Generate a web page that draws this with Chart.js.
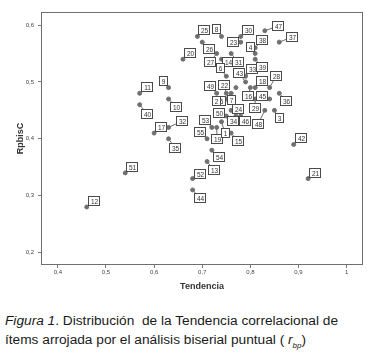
<!DOCTYPE html>
<html>
<head>
<meta charset="utf-8">
<script src="https://cdn.jsdelivr.net/npm/chart.js@4.4.0/dist/chart.umd.min.js"></script>
<style>
    body { margin: 0; background: #fff; width: 372px; height: 359px; overflow: hidden; font-family: "Liberation Sans", Arial, sans-serif; }
    #grafico-wrap { position: absolute; left: 0; top: 0; width: 372px; height: 295px; }
    #leyenda { position: absolute; left: 5px; top: 311px; font-size: 13.7px; line-height: 19px; color: #1a1a1a; white-space: nowrap; }
    #leyenda sub { font-size: 8px; }
</style>
</head>
<body>
<div id="grafico-wrap"><canvas id="grafico" width="372" height="295"></canvas></div>
<div id="leyenda"><i>Figura 1</i>. Distribución&nbsp; de la Tendencia correlacional de<br>ítems arrojada por el análisis biserial puntual ( <i>r<sub>bp</sub></i>)</div>
<script>
// items (etiquetas), Tendencia (x) y RpbisC (y)
const items     = ["12", "51", "11", "40", "9", "10", "17", "32", "35", "20",
                   "25", "8", "26", "27", "23", "30", "47", "37", "38", "4",
                   "14", "31", "6", "33", "43", "39", "18", "28", "16", "45",
                   "29", "36", "3", "48", "49", "22", "7", "5", "2", "50",
                   "24", "34", "46", "53", "55", "19", "1", "15", "54", "13",
                   "52", "44", "42", "21", ""];
const tendencia = [0.46, 0.54, 0.57, 0.57, 0.63, 0.63, 0.60, 0.63, 0.63, 0.66,
                   0.69, 0.74, 0.70, 0.73, 0.78, 0.78, 0.83, 0.86, 0.81, 0.81,
                   0.74, 0.76, 0.75, 0.79, 0.79, 0.81, 0.81, 0.84, 0.80, 0.84,
                   0.81, 0.86, 0.85, 0.83, 0.73, 0.75, 0.76, 0.75, 0.74, 0.75,
                   0.76, 0.77, 0.78, 0.72, 0.71, 0.73, 0.74, 0.76, 0.72, 0.71,
                   0.68, 0.68, 0.89, 0.92, 0.77];
const rpbis     = [0.28, 0.34, 0.48, 0.46, 0.49, 0.47, 0.41, 0.42, 0.40, 0.54,
                   0.58, 0.58, 0.57, 0.55, 0.57, 0.58, 0.59, 0.57, 0.56, 0.55,
                   0.54, 0.55, 0.51, 0.51, 0.50, 0.54, 0.49, 0.49, 0.49, 0.47,
                   0.47, 0.48, 0.45, 0.45, 0.48, 0.48, 0.48, 0.47, 0.47, 0.44,
                   0.45, 0.44, 0.44, 0.42, 0.40, 0.42, 0.43, 0.41, 0.38, 0.36,
                   0.33, 0.31, 0.39, 0.33, 0.49];
// desplazamiento de cada etiqueta respecto a su punto (px)
const labelDx   = [7, 7, 7, 7, -6, 7, 7, 13, 6, 7,
                   7, -5, 7, -7, -8, 7, 13, 13, 7, -5,
                   7, 7, -6, 6, -7, 7, 7, 6, -2, -8,
                   0, 7, 5, -7, -7, -2, 0, -5, -5, -7,
                   7, -3, 4, -7, -7, 0, 4, 7, 7, 7,
                   7, 7, 7, 7, 0];
const labelDy   = [-6, -6, -6, 9, -7, 8, -6, -6, 9, -6,
                   -6, -7, 7, 8, 0, -6, -5, -5, -8, -7,
                   3, 8, -8, -7, -9, 8, -7, -12, 8, -3,
                   9, 8, 8, 14, -7, -8, 7, 2, 2, -3,
                   -1, 5, 5, -7, -7, 12, 11, 8, 7, 8,
                   -5, 8, -6, -6, 0];

const xTicks = [0.4, 0.5, 0.6, 0.7, 0.8, 0.9, 1];
const yTicks = [0.2, 0.3, 0.4, 0.5, 0.6];

const coma = v => String(v).replace(".", ",");

const marco = {
    id: "marco",
    afterDatasetsDraw(chart) {
        const { ctx, chartArea: a } = chart;
        ctx.save();
        ctx.strokeStyle = "#6f6f6f";
        ctx.lineWidth = 1;
        ctx.strokeRect(a.left + 0.5, a.top + 0.5, a.right - a.left - 1, a.bottom - a.top - 1);

        const meta = chart.getDatasetMeta(0);
        ctx.font = "6.5px 'Liberation Sans', Arial, sans-serif";
        ctx.textAlign = "center";
        ctx.textBaseline = "middle";
        meta.data.forEach((p, i) => {
            const txt = items[i];
            if (!txt) return;
            const cx = Math.round(p.x + labelDx[i]);
            const cy = Math.round(p.y + labelDy[i]);
            const w = Math.round(ctx.measureText(txt).width) + 4;
            const h = 9;
            ctx.strokeStyle = "#6e6e6e";
            ctx.beginPath();
            ctx.moveTo(p.x, p.y);
            ctx.lineTo(cx, cy);
            ctx.stroke();
            ctx.fillStyle = "#fff";
            ctx.fillRect(cx - w / 2, cy - h / 2, w, h);
            ctx.strokeStyle = "#4a4a4a";
            ctx.strokeRect(Math.floor(cx - w / 2) + 0.5, Math.floor(cy - h / 2) + 0.5, w, h);
            ctx.fillStyle = "#333";
            ctx.fillText(txt, cx + 0.5, cy + 1);
        });
        ctx.restore();
    }
};

new Chart(document.getElementById("grafico"), {
    type: "scatter",
    data: {
        datasets: [{
            data: tendencia.map((t, i) => ({ x: t, y: rpbis[i] })),
            backgroundColor: "#707070",
            borderColor: "#707070",
            pointRadius: 2,
            pointHoverRadius: 2
        }]
    },
    options: {
        responsive: false,
        animation: false,
        layout: { padding: { left: 0, top: 12, right: 9, bottom: 0 } },
        plugins: { legend: { display: false }, tooltip: { enabled: false } },
        scales: {
            x: {
                type: "linear",
                min: 0.365,
                max: 1.034,
                afterBuildTicks: s => { s.ticks = xTicks.map(v => ({ value: v })); },
                afterFit: s => { s.height = 30; },
                grid: { display: true, drawOnChartArea: false, drawTicks: true, tickLength: 3, color: "#7a7a7a" },
                border: { display: false },
                ticks: {
                    padding: 1,
                    maxRotation: 0,
                    color: "#444",
                    font: { family: "'Liberation Sans', Arial, sans-serif", size: 6 },
                    callback: v => coma(v)
                },
                title: {
                    display: true,
                    text: "Tendencia",
                    color: "#333",
                    padding: { top: 0, bottom: 3 },
                    font: { family: "'Liberation Sans', Arial, sans-serif", size: 9, weight: "bold" }
                }
            },
            y: {
                type: "linear",
                min: 0.178,
                max: 0.623,
                afterBuildTicks: s => { s.ticks = yTicks.map(v => ({ value: v })); },
                afterFit: s => { s.width = 41; },
                grid: { display: true, drawOnChartArea: false, drawTicks: true, tickLength: 3, color: "#7a7a7a" },
                border: { display: false },
                ticks: {
                    padding: 4,
                    color: "#444",
                    font: { family: "'Liberation Sans', Arial, sans-serif", size: 6 },
                    callback: v => coma(v)
                },
                title: {
                    display: true,
                    text: "RpbisC",
                    color: "#333",
                    padding: { top: 15, bottom: 0 },
                    font: { family: "'Liberation Sans', Arial, sans-serif", size: 9, weight: "bold" }
                }
            }
        }
    },
    plugins: [marco]
});
</script>
</body>
</html>
